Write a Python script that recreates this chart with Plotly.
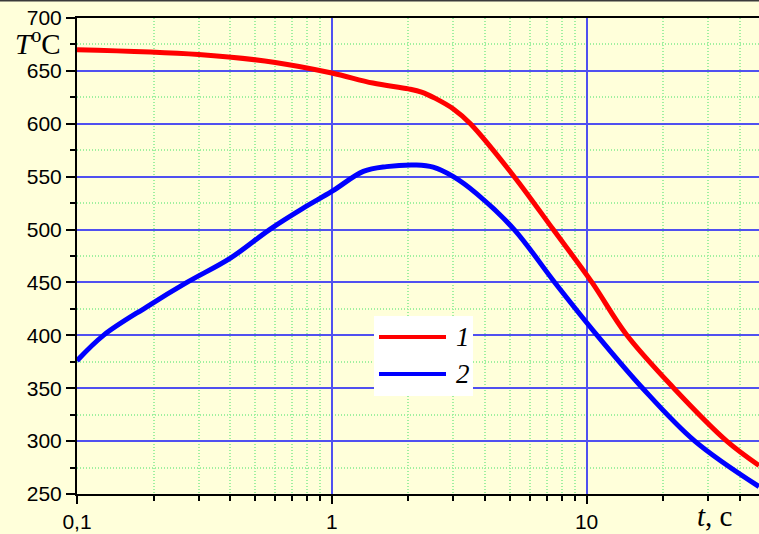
import plotly.graph_objects as go

# Curve 1 (red): temperature vs time
t1 = [0.1, 0.3, 0.6, 1.0, 1.45, 2.0, 2.25, 2.55, 3.0, 3.5, 5.2, 7.4, 10.5, 14.3, 22, 35.5, 47.5]
T1 = [670, 665.5, 658, 648, 638.5, 633, 630, 624, 614, 600, 550, 500, 450, 401, 350, 300, 277]

# Curve 2 (blue): temperature vs time
t2 = [0.1, 0.127, 0.188, 0.27, 0.4, 0.57, 0.77, 1.0, 1.33, 1.64, 2.15, 2.5, 3.0, 3.7, 5.2, 7.5, 11, 16.6, 26.6, 47.5]
T2 = [376, 400, 427, 450, 473, 500, 520, 536, 555, 559.5, 561, 559, 550, 534, 500, 450, 400, 350, 300, 257]

x_tickvals = [0.1, 1, 10]
x_ticktext = ["0,1", "1", "10"]
x_minor = [d * m for d in (0.1, 1, 10) for m in range(2, 10)]

series_names = ["1", "2"]
series_colors = ["#FF0000", "#0000FF"]

W, H = 759, 534
ML, MR, MT, MB = 77, 0, 18, 40
PW, PH = W - ML - MR, H - MT - MB


def px(x):
    return (x - ML) / PW


def py(y):
    return (H - MB - y) / PH


fig = go.Figure()
fig.add_trace(go.Scatter(x=t1, y=T1, mode="lines", name=series_names[0],
                         line=dict(color=series_colors[0], width=5, shape="spline", smoothing=1.0)))
fig.add_trace(go.Scatter(x=t2, y=T2, mode="lines", name=series_names[1],
                         line=dict(color=series_colors[1], width=5, shape="spline", smoothing=1.0)))

bg = "#FFFFDA"
grid_major = "#5050F0"
grid_minor = "#A0F0A0"
tick_font = dict(family="Liberation Sans, Arial, sans-serif", size=21, color="black")

fig.update_layout(
    width=W, height=H,
    margin=dict(l=ML, r=MR, t=MT, b=MB, pad=0),
    paper_bgcolor=bg, plot_bgcolor=bg,
    showlegend=False,
    xaxis=dict(
        type="log", range=[-1, 1.6767],
        tickmode="array", tickvals=x_tickvals, ticktext=x_ticktext,
        ticks="outside", ticklen=8, tickwidth=2, tickcolor="black",
        showline=True, linecolor="black", linewidth=2, mirror=True,
        showgrid=True, gridcolor=grid_major, gridwidth=1.5,
        tickfont=tick_font, zeroline=False,
        minor=dict(tickmode="array", tickvals=x_minor, ticks="outside", ticklen=5,
                   tickwidth=2, tickcolor="black",
                   showgrid=True, gridcolor=grid_minor, griddash="1px,2px", gridwidth=1.5),
    ),
    yaxis=dict(
        range=[250, 700], tick0=250, dtick=50,
        ticks="outside", ticklen=9, tickwidth=2, tickcolor="black",
        showline=True, linecolor="black", linewidth=2, mirror=False,
        showgrid=True, gridcolor=grid_major, gridwidth=1.5,
        tickfont=tick_font, zeroline=False,
        minor=dict(dtick=25, ticks="outside", ticklen=5, tickwidth=2, tickcolor="black",
                   showgrid=True, gridcolor=grid_minor, griddash="1px,2px", gridwidth=1.5),
    ),
)

shapes = [
    # dark frame line along the top edge of the figure
    dict(type="line", xref="paper", yref="paper", x0=px(0), x1=px(W), y0=py(0.5), y1=py(0.5),
         line=dict(color="#3A3A3A", width=2)),
    # legend box
    dict(type="rect", xref="paper", yref="paper", x0=px(374), x1=px(473), y0=py(396), y1=py(316),
         fillcolor="white", line=dict(width=0), layer="above"),
]
for i, yy in enumerate([337, 374]):
    shapes.append(dict(type="line", xref="paper", yref="paper", x0=px(379), x1=px(446),
                       y0=py(yy), y1=py(yy), line=dict(color=series_colors[i], width=4),
                       layer="above"))
fig.update_layout(shapes=shapes)

serif = "Liberation Serif, Times New Roman, serif"
annotations = [
    dict(text="<i>T</i><sup>o</sup>C", xref="paper", yref="paper", x=px(38), y=py(42),
         xanchor="center", yanchor="middle",
         showarrow=False, font=dict(family=serif, size=29, color="black")),
    dict(text="<i>t</i>, с", xref="paper", yref="paper", x=px(714), y=py(516),
         xanchor="center", yanchor="middle",
         showarrow=False, font=dict(family=serif, size=29, color="black")),
]
for i, yy in enumerate([337, 374]):
    annotations.append(dict(text="<i>%s</i>" % series_names[i], xref="paper", yref="paper",
                            x=px(463), y=py(yy), xanchor="center", yanchor="middle",
                            showarrow=False,
                            font=dict(family=serif, size=27, color="black")))
fig.update_layout(annotations=annotations)

fig.write_html("out.html")
